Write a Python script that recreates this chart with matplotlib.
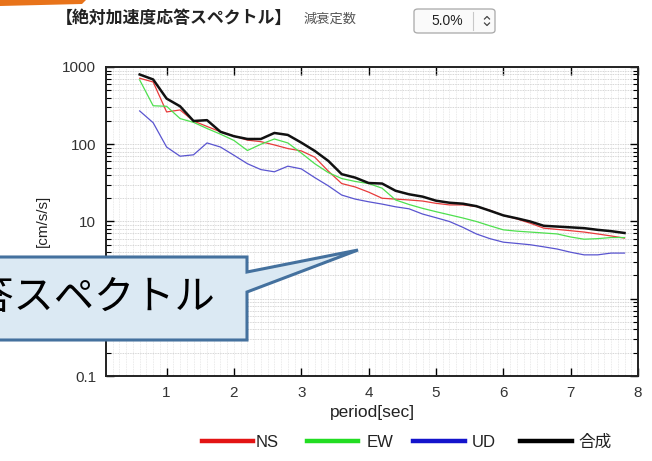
import matplotlib
matplotlib.use("Agg")
import matplotlib.pyplot as plt
from matplotlib.patches import Polygon, FancyBboxPatch
from matplotlib.lines import Line2D
from matplotlib.ticker import FixedLocator, MultipleLocator, LogLocator, NullFormatter

plt.rcParams['font.family'] = ['Liberation Sans', 'Noto Sans CJK JP', 'DejaVu Sans']

# Response spectrum (damping 5.0%)
period = [0.6, 0.8, 1.0, 1.2, 1.4, 1.6, 1.8, 2.0, 2.2, 2.4, 2.6, 2.8, 3.0,
          3.2, 3.4, 3.6, 3.8, 4.0, 4.2, 4.4, 4.6, 4.8, 5.0, 5.2, 5.4, 5.6,
          5.8, 6.0, 6.2, 6.4, 6.6, 6.8, 7.0, 7.2, 7.4, 7.6, 7.8]
ns = [715, 640, 262, 278, 200, 170, 145, 128, 113, 108, 98, 88, 82,
      68, 45, 31, 28, 24, 20, 19.5, 19, 18.4, 17.2, 16.4, 16.4, 15.6,
      14, 12, 10.8, 9.5, 8.2, 7.9, 7.6, 7.3, 6.9, 6.5, 6.1]
ew = [680, 315, 310, 215, 192, 160, 135, 112, 83, 100, 117, 104, 77,
      56, 43, 36, 33, 31, 27, 19, 16.6, 14.8, 13.4, 12.2, 11.1, 10,
      8.8, 7.8, 7.5, 7.3, 7.1, 6.9, 6.3, 5.9, 6.0, 6.2, 6.2]
ud = [270, 190, 92, 70, 73, 104, 92, 72, 56, 47, 44, 52, 48,
      37, 29, 22, 19.5, 18, 16.8, 15.5, 14.6, 12.5, 11.2, 10, 8.4, 6.9,
      6.0, 5.4, 5.2, 5.0, 4.7, 4.4, 4.0, 3.7, 3.7, 3.9, 3.9]
total = [800, 690, 390, 310, 200, 205, 145, 127, 117, 117, 140, 132, 105,
         82, 61, 41, 37, 31.5, 31, 25, 22.5, 21, 18.6, 17.5, 17, 15.8,
         13.8, 12, 11, 10, 8.8, 8.6, 8.4, 8.2, 7.8, 7.5, 7.1]

series_names = ['NS', 'EW', 'UD', '合成']
series_values = [ns, ew, ud, total]
line_colors = ['#e83a3a', '#4ee04e', '#5a55d0', '#111111']
line_widths = [0.9, 0.9, 0.9, 1.8]
legend_colors = ['#e31414', '#22dd22', '#1414cc', '#000000']

y_ticks = [0.1, 1, 10, 100, 1000]
y_tick_labels = ['0.1', '', '10', '100', '1000']
x_ticks = [1, 2, 3, 4, 5, 6, 7, 8]

W, H = 652, 461
fig = plt.figure(figsize=(W / 100, H / 100), dpi=100)
fig.patch.set_facecolor('white')


def fx(px):
    return px / W


def fy(py):
    return 1 - py / H


ax = fig.add_axes([fx(106), fy(376), fx(638) - fx(106), fy(67) - fy(376)])
for vals, c, lw in zip(series_values, line_colors, line_widths):
    ax.plot(period, vals, color=c, lw=lw, zorder=3)

ax.set_yscale('log')
ax.set_xlim(0.1, 8)
ax.set_ylim(0.1, 1000)
ax.xaxis.set_major_locator(FixedLocator(x_ticks))
ax.xaxis.set_minor_locator(MultipleLocator(0.1))
ax.yaxis.set_major_locator(FixedLocator(y_ticks))
ax.set_yticklabels(y_tick_labels)
ax.yaxis.set_minor_locator(LogLocator(base=10, subs=range(2, 10)))
ax.yaxis.set_minor_formatter(NullFormatter())

ax.grid(which='both', axis='y', color='#c8c8c8', linestyle=(0, (1, 1)), lw=0.6)
ax.grid(which='both', axis='x', color='#e4e4e4', linestyle=(0, (1, 1)), lw=0.6)
ax.set_axisbelow(True)

ax.tick_params(axis='both', which='major', direction='in', length=6, width=1,
               top=True, right=True, labelsize=11, labelcolor='#333333', pad=7)
ax.tick_params(axis='y', which='minor', direction='in', length=3.5, width=0.8,
               left=True, right=True)
ax.tick_params(axis='x', which='minor', length=0)
for s in ax.spines.values():
    s.set_linewidth(1.4)
    s.set_color('#222222')

fig.text(fx(372), fy(412), 'period[sec]', ha='center', va='center',
         fontsize=12.5, color='#222222')
fig.text(fx(43), fy(221), '[cm/s/s]', ha='center', va='center', rotation=90,
         fontsize=11, color='#222222')

# legend row
leg_segments = [(202, 253, 256), (307, 358, 367), (413, 465, 472), (520, 572, 578)]
for (x0, x1, xt), name, c in zip(leg_segments, series_names, legend_colors):
    fig.add_artist(Line2D([fx(x0), fx(x1)], [fy(441), fy(441)], color=c, lw=3.2,
                          transform=fig.transFigure))
    fig.text(fx(xt), fy(442), name, ha='left', va='center', fontsize=12,
             color='#222222')

# header
fig.add_artist(Polygon([(fx(0), fy(0)), (fx(86), fy(0)), (fx(82), fy(4)), (fx(0), fy(6))],
                       closed=True, transform=fig.transFigure, facecolor='#e8731a',
                       edgecolor='none'))
fig.text(fx(56), fy(18), '【絶対加速度応答スペクトル】', ha='left', va='center',
         fontsize=12.2, fontweight='bold', color='#222222',
         family=['Noto Sans CJK JP', 'DejaVu Sans'])
fig.text(fx(304), fy(19), '減衰定数', ha='left', va='center', fontsize=9.5,
         color='#555555', family=['Noto Sans CJK JP', 'DejaVu Sans'])
fig.add_artist(FancyBboxPatch((fx(414), fy(33)), fx(495) - fx(414), fy(9) - fy(33),
                              boxstyle='round,pad=0,rounding_size=0.006',
                              transform=fig.transFigure, facecolor='#fafafa',
                              edgecolor='#a8a8a8', lw=0.9))
fig.add_artist(Line2D([fx(473), fx(473)], [fy(12), fy(30)], color='#c8c8c8', lw=0.8,
                      transform=fig.transFigure))
fig.text(fx(447), fy(21), '5.0%', ha='center', va='center', fontsize=10,
         color='#222222')
fig.add_artist(Line2D([fx(484.5), fx(487), fx(489.5)], [fy(19), fy(16.5), fy(19)],
                      color='#444444', lw=0.9, transform=fig.transFigure))
fig.add_artist(Line2D([fx(484.5), fx(487), fx(489.5)], [fy(23), fy(25.5), fy(23)],
                      color='#444444', lw=0.9, transform=fig.transFigure))

# callout
callout = [(-20, 257), (247, 257), (247, 272), (358, 250), (247, 292), (247, 340), (-20, 340)]
fig.add_artist(Polygon([(fx(x), fy(y)) for x, y in callout], closed=True,
                       transform=fig.transFigure, facecolor='#dbe9f3',
                       edgecolor='#44719e', lw=2.2, zorder=5))
fig.text(fx(215), fy(298), '応答スペクトル', ha='right', va='center', fontsize=29,
         color='#000000', family=['Noto Sans CJK JP', 'DejaVu Sans'], zorder=6)

fig.savefig('out.png', dpi=100)
